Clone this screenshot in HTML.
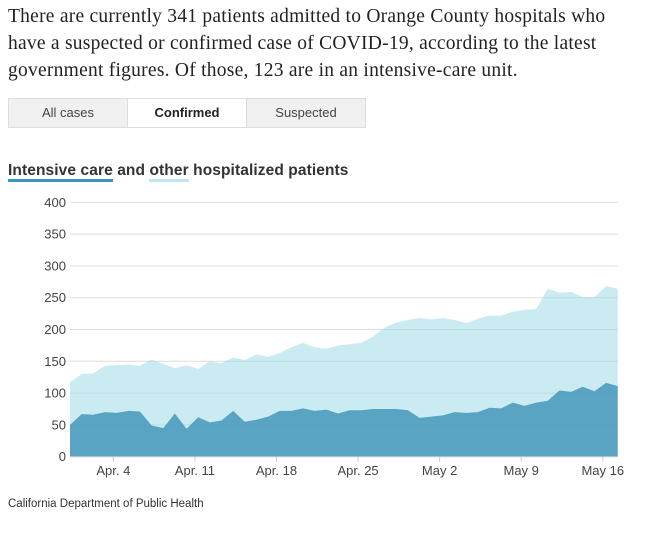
<!DOCTYPE html>
<html><head><meta charset="utf-8">
<style>
body{margin:0;background:#fff;width:665px;height:537px;overflow:hidden;position:relative;font-family:"Liberation Sans",sans-serif;}
#intro{position:absolute;left:8px;top:3px;width:620px;font-family:"Liberation Serif",serif;font-size:19.5px;letter-spacing:0.25px;line-height:27px;color:#222;margin:0;}
#tabs{position:absolute;left:8px;top:98px;display:flex;}
.tab{width:118px;height:28px;border:1px solid #ddd;background:#f0f0f0;font-size:13px;color:#444;text-align:center;line-height:28px;margin-right:-1px;}
.tab.on{background:#fff;font-weight:bold;color:#222;}
#title{position:absolute;left:8px;top:162px;font-size:15.5px;font-weight:bold;color:#333;letter-spacing:0.1px;}
.u1{border-bottom:3px solid #3896b8;padding-bottom:0}
.u2{border-bottom:3px solid #bfe6f0;}
#src{position:absolute;left:8px;top:498px;font-size:11.5px;color:#333;}
svg{position:absolute;left:0;top:0}
</style></head><body>
<p id="intro">There are currently 341 patients admitted to Orange County hospitals who have a suspected or confirmed case of COVID-19, according to the latest government figures. Of those, 123 are in an intensive-care unit.</p>
<div id="tabs">
<div class="tab">All cases</div>
<div class="tab on">Confirmed</div>
<div class="tab">Suspected</div>
</div>
<div id="title"><span class="u1">Intensive care</span> and <span class="u2">other</span> hospitalized patients</div>
<svg id="chart" width="665" height="537"></svg>
<div id="src">California Department of Public Health</div>
<script>
const totalValues=[117,130,131,143,144,145,143,153,146,139,144,138,150,147,156,152,161,157,163,172,179,172,170,175,177,179,189,203,211,215,218,216,218,215,210,217,222,222,228,231,232,264,258,259,251,251,268,264];
const icuValues=[50,67,66,70,69,72,71,49,45,68,44,62,54,57,72,55,58,63,72,72,76,72,74,68,73,73,75,75,75,73,61,63,65,70,69,70,77,76,85,80,85,88,104,102,110,103,116,111];
const yTicks=[0,50,100,150,200,250,300,350,400];
const xTickLabels=["Apr. 4","Apr. 11","Apr. 18","Apr. 25","May 2","May 9","May 16"];
const xTickIndex=[3.72,10.72,17.72,24.72,31.72,38.72,45.72];

const NS="http://www.w3.org/2000/svg";
const svg=document.getElementById('chart');
const x0=70,x1=617.7,y0=456.7,y1=202.3;
const n=totalValues.length;
function xs(i){return x0+(x1-x0)*i/(n-1);}
function ys(v){return y0-(y0-y1)*v/400;}
function mk(t,a){const e=document.createElementNS(NS,t);for(const k in a)e.setAttribute(k,a[k]);svg.appendChild(e);return e;}
yTicks.forEach(v=>{
  const l=mk('line',{x1:x0,x2:x1,y1:ys(v),y2:ys(v),stroke:'#ddd','stroke-width':1});
  
  
  const t=mk('text',{x:66,y:ys(v)+4.5,'text-anchor':'end','font-size':13,fill:'#444','font-family':'Liberation Sans, sans-serif'});
  t.textContent=v;
  
  
});
function area(vals,color,name){
  let d='M'+xs(0)+','+y0;
  vals.forEach((v,i)=>{d+='L'+xs(i)+','+ys(v);});
  d+='L'+xs(n-1)+','+y0+'Z';
  const p=mk('path',{d:d,fill:color});
  
  
}
area(totalValues,'rgba(160,218,232,0.55)','area-other-hospitalized');
area(icuValues,'rgba(64,148,184,0.82)','area-intensive-care');
const ax=mk('line',{x1:x0,x2:x1,y1:y0,y2:y0,stroke:'#ccc','stroke-width':1});


xTickLabels.forEach((lab,k)=>{
  const x=xs(xTickIndex[k]);
  const tk=mk('line',{x1:x,x2:x,y1:y0,y2:y0+5,stroke:'#ccc'});
  
  
  const t=mk('text',{x:x,y:475,'text-anchor':'middle','font-size':13,fill:'#444','font-family':'Liberation Sans, sans-serif'});
  t.textContent=lab;
  
  
});
</script>
</body></html>
